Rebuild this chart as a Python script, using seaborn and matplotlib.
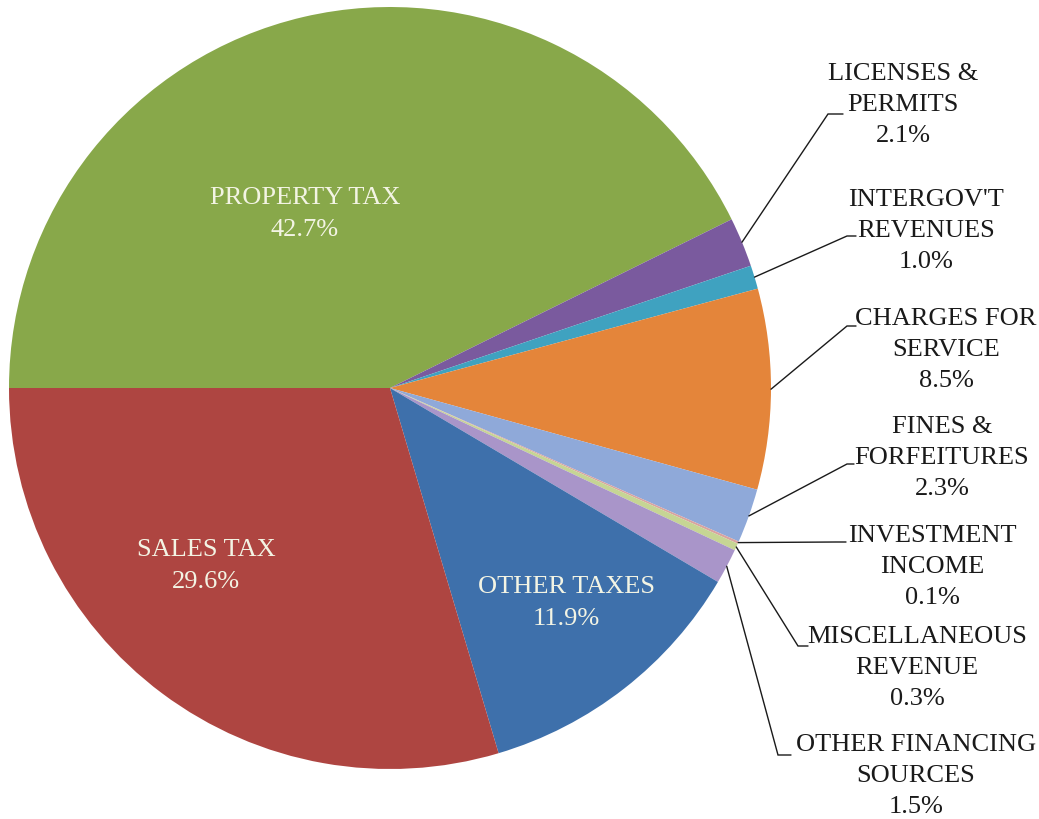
import numpy as np
import matplotlib
matplotlib.use("Agg")
import matplotlib.pyplot as plt
import seaborn as sns

# Revenue sources, in clockwise order starting at 9 o'clock
categories = [
    "PROPERTY TAX",
    "LICENSES &\nPERMITS",
    "INTERGOV'T\nREVENUES",
    "CHARGES FOR\nSERVICE",
    "FINES &\nFORFEITURES",
    "INVESTMENT\nINCOME",
    "MISCELLANEOUS\nREVENUE",
    "OTHER FINANCING\nSOURCES",
    "OTHER TAXES",
    "SALES TAX",
]
shares = [42.7, 2.1, 1.0, 8.5, 2.3, 0.1, 0.3, 1.5, 11.9, 29.6]
colors = [
    "#88A84A", "#7A5A9E", "#3FA2C0", "#E4853A", "#8FA9D9",
    "#D9A3A0", "#C6D594", "#A995C9", "#3E70AB", "#AE4541",
]

W, H = 1039, 820
FONT = ["Liberation Serif", "DejaVu Serif"]

sns.set_theme(style="white")
plt.rcParams["font.family"] = FONT

fig = plt.figure(figsize=(W / 100, H / 100), dpi=100)
ax = fig.add_axes([0, 0, 1, 1])


def px(x, y):
    """Convert top-left based pixel position to axes data coordinates."""
    return x, H - y


cx, cy = px(390, 389)
R = 381
wedges, _ = ax.pie(
    shares, colors=colors, startangle=180, counterclock=False,
    center=(cx, cy), radius=R, frame=True,
    wedgeprops=dict(linewidth=0),
)
ax.set_xlim(0, W)
ax.set_ylim(0, H)
ax.set_aspect("equal")
ax.set_axis_off()

TEXT_KW = dict(ha="center", va="center", fontsize=19, linespacing=1.55,
               family=FONT)

# Labels placed inside the three largest slices
inside = {0: (305, 214), 9: (206, 566), 8: (566, 603)}
for i, (x, y) in inside.items():
    ax.text(*px(x, y), f"{categories[i]}\n{shares[i]:.1f}%",
            color="#F3F4E4", **TEXT_KW)

# Outside labels with bent leader lines: text centre, elbow, line end
outside = {
    1: ((903, 105), (828, 115), (843, 115)),
    2: ((926, 231), (847, 237), (856, 237)),
    3: ((946, 350), (847, 327), (856, 327)),
    4: ((942, 458), (847, 465), (854, 465)),
    5: ((932, 567), (836, 543), (846, 543)),
    6: ((917, 668), (798, 647), (808, 647)),
    7: ((916, 776), (778, 756), (791, 756)),
}
for i, (tc, elbow, end) in outside.items():
    w = wedges[i]
    mid = np.deg2rad((w.theta1 + w.theta2) / 2)
    sx, sy = cx + R * np.cos(mid), cy + R * np.sin(mid)
    ex, ey = px(*elbow)
    fx, fy = px(*end)
    ax.plot([sx, ex, fx], [sy, ey, fy], color="#1a1a1a", lw=1.0,
            solid_joinstyle="miter")
    ax.text(*px(*tc), f"{categories[i]}\n{shares[i]:.1f}%",
            color="#1a1a1a", **TEXT_KW)

fig.savefig("out.png", dpi=100, facecolor="white")
